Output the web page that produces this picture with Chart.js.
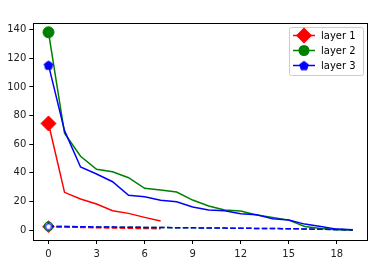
<!DOCTYPE html>
<html><head><meta charset="utf-8">
<script src="https://cdn.jsdelivr.net/npm/chart.js@4"></script>
<style>html,body{margin:0;padding:0;background:#fff}#w{width:378px;height:264px}</style>
</head><body><div id="w"><canvas id="c" width="378" height="264"></canvas></div>
<script>
const xValues = [0,1,2,3,4,5,6,7,8,9,10,11,12,13,14,15,16,17,18,19];
const layer1 = [74.5,26.4,21.7,18.2,13.5,11.7,8.9,6.3];
const layer2 = [138.2,67.7,51.6,42.5,40.8,36.6,29.2,28.0,26.6,21.0,16.8,14.0,13.3,10.5,8.9,7.0,2.6,1.2,0.3,0.1];
const layer3 = [115.3,69.5,44.1,39.2,33.8,24.3,23.3,20.8,19.8,16.1,14.0,13.5,11.4,10.7,7.9,7.0,4.2,2.6,0.7,0.2];
const layer1Dash = [2.4,2.1,1.9,1.7,1.5,1.3,1.1,1.0];
const layer2Dash = [2.6,2.5,2.3,2.2,2.1,2.0,1.9,1.8,1.7,1.6,1.5,1.4,1.3,1.2,1.1,1.0,0.8,0.6,0.4,0.2];
const layer3Dash = [2.7,2.5,2.4,2.2,2.1,2.0,1.9,1.8,1.7,1.6,1.5,1.4,1.3,1.2,1.1,1.0,0.8,0.6,0.4,0.2];
const xTicks = [0,3,6,9,12,15,18];
const yTicks = [0,20,40,60,80,100,120,140];
const labels = ['layer 1','layer 2','layer 3'];

function pentagon(r, fill, stroke, lw){
  const s = Math.ceil(2*r + 2*lw + 2);
  const c = document.createElement('canvas'); c.width = s; c.height = s;
  const g = c.getContext('2d');
  g.beginPath();
  for(let i=0;i<5;i++){
    const a = -Math.PI/2 + i*2*Math.PI/5;
    const px = s/2 + r*Math.cos(a), py = s/2 + r*Math.sin(a)+r*0.1;
    i?g.lineTo(px,py):g.moveTo(px,py);
  }
  g.closePath(); g.fillStyle = fill; g.fill();
  g.lineWidth = lw; g.strokeStyle = stroke; g.stroke();
  return c;
}
const pentBig = pentagon(4.6,'#0000ff','#0000ff',1);
const pentSmall = pentagon(3.6,'#ffffff','#0000ff',1.2);

const pts = a => a.map((v,i)=>({x:xValues[i],y:v}));
const first = r => (ctx)=> ctx.dataIndex===0 ? r : 0;

const datasets = [
  {data:pts(layer1),borderColor:'#ff0000',backgroundColor:'#ff0000',borderWidth:1.5,pointStyle:'rectRot',pointRadius:first(7.5),pointBorderWidth:1,order:6},
  {data:pts(layer1Dash),borderColor:'#ff0000',backgroundColor:'#ffffff',borderWidth:1.5,borderDash:[5.5,2.4],pointStyle:'rectRot',pointRadius:first(5.5),pointBorderWidth:1.2,order:5},
  {data:pts(layer2),borderColor:'#008000',backgroundColor:'#008000',borderWidth:1.5,pointStyle:'circle',pointRadius:first(5.5),pointBorderWidth:1,order:4},
  {data:pts(layer2Dash),borderColor:'#008000',backgroundColor:'#ffffff',borderWidth:1.5,borderDash:[5.5,2.4],pointStyle:'circle',pointRadius:first(4.2),pointBorderWidth:1.2,order:3},
  {data:pts(layer3),borderColor:'#0000ff',backgroundColor:'#0000ff',borderWidth:1.5,pointStyle:pentBig,pointRadius:first(4),order:2},
  {data:pts(layer3Dash),borderColor:'#0000ff',backgroundColor:'#ffffff',borderWidth:1.5,borderDash:[5.5,2.4],pointStyle:pentSmall,pointRadius:first(3),order:1}
];

const frame = {
  id:'frame',
  afterDraw(chart){
    const {ctx, chartArea:a} = chart;
    ctx.save();
    ctx.strokeStyle='#000'; ctx.lineWidth=1;
    ctx.strokeRect(Math.round(a.left)+0.5, Math.round(a.top)+0.5, Math.round(a.right-a.left)-1, Math.round(a.bottom-a.top));
    // legend
    const bx=289.5, by=27.5, bw=74, bh=48;
    ctx.beginPath();
    if(ctx.roundRect) ctx.roundRect(bx,by,bw,bh,2); else ctx.rect(bx,by,bw,bh);
    ctx.fillStyle='rgba(255,255,255,0.8)'; ctx.fill();
    ctx.strokeStyle='#cccccc'; ctx.lineWidth=1; ctx.stroke();
    const cols=['#ff0000','#008000','#0000ff'];
    ctx.font='10px "DejaVu Sans"'; ctx.textBaseline='middle'; ctx.textAlign='left';
    for(let i=0;i<3;i++){
      const y = 35.5 + i*15;
      ctx.strokeStyle=cols[i]; ctx.lineWidth=1.5;
      ctx.beginPath(); ctx.moveTo(293,y); ctx.lineTo(315,y); ctx.stroke();
      ctx.fillStyle=cols[i];
      if(i===0){ Chart.helpers.drawPoint(ctx,{pointStyle:'rectRot',radius:7,borderWidth:1},304,y); ctx.fill(); }
      else if(i===1){ ctx.beginPath(); ctx.arc(304,y,5.5,0,Math.PI*2); ctx.fill(); }
      else { ctx.drawImage(pentBig,304-pentBig.width/2,y-pentBig.height/2); }
      ctx.fillStyle='#000';
      ctx.fillText(labels[i],321,y+0.5);
    }
    ctx.restore();
  }
};

new Chart(document.getElementById('c'),{
  type:'line',
  data:{datasets},
  options:{
    responsive:false, animation:false,
    layout:{padding:{left:0,right:10,top:22.7,bottom:0}},
    plugins:{legend:{display:false},tooltip:{enabled:false}},
    elements:{line:{tension:0,fill:false}},
    scales:{
      x:{type:'linear',min:-0.95,max:19.95,
        afterBuildTicks:s=>{s.ticks=xTicks.map(v=>({value:v}));},
        afterFit:s=>{s.height=24;},
        grid:{drawOnChartArea:false,drawTicks:true,tickLength:4,color:'#000'},
        border:{display:false},
        ticks:{color:'#222',font:{family:'DejaVu Sans',size:10},padding:4,maxRotation:0,autoSkip:false}},
      y:{type:'linear',min:-6.9,max:144.9,
        afterBuildTicks:s=>{s.ticks=yTicks.map(v=>({value:v}));},
        afterFit:s=>{s.width=33.3;},
        grid:{drawOnChartArea:false,drawTicks:true,tickLength:4,color:'#000'},
        border:{display:false},
        ticks:{color:'#222',font:{family:'DejaVu Sans',size:10},padding:3,autoSkip:false}}
    }
  },
  plugins:[frame]
});
</script></body></html>
